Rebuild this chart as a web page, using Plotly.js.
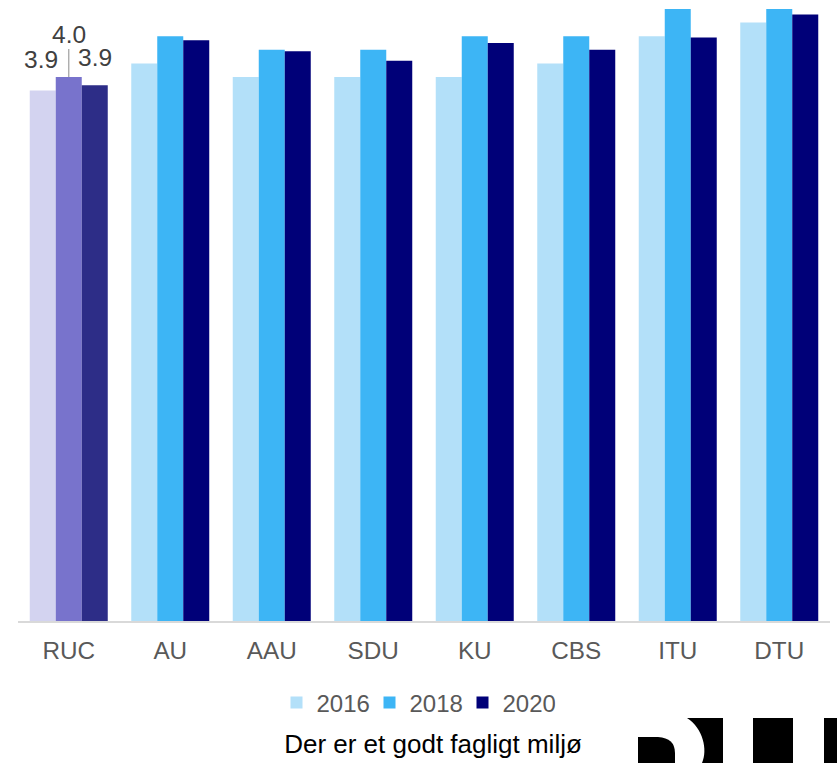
<!DOCTYPE html>
<html>
<head>
<meta charset="utf-8">
<script src="https://cdn.plot.ly/plotly-3.0.1.min.js"></script>
<style>html,body{margin:0;padding:0;background:#fff;}#chart{width:837px;height:763px;}</style>
</head>
<body>
<div id="chart"></div>
<script>
// ---- data ----
const categories = ['RUC', 'AU', 'AAU', 'SDU', 'KU', 'CBS', 'ITU', 'DTU'];
const years = ['2016', '2018', '2020'];
const v2016 = [3.9, 4.1, 4.0, 4.0, 4.0, 4.1, 4.3, 4.4];
const v2018 = [4.0, 4.3, 4.2, 4.2, 4.3, 4.3, 4.5, 4.5];
const v2020 = [3.94, 4.27, 4.19, 4.12, 4.25, 4.2, 4.29, 4.46];
const titleText = 'Der er et godt fagligt miljø';

// ---- styles ----
const seriesColors = ['#b3e0f9', '#3db5f5', '#000078'];
const highlightColors = ['#d3d3f0', '#7873cc', '#2d2d87'];
const FONT = 'Arial, "Liberation Sans", sans-serif';

const series = [v2016, v2018, v2020];
const traces = [];
series.forEach((vals, i) => {
  traces.push({
    type: 'bar', name: years[i],
    x: categories.slice(1), y: vals.slice(1),
    offsetgroup: years[i], legendgroup: years[i],
    marker: {color: seriesColors[i], line: {width: 0}},
    hoverinfo: 'x+y+name'
  });
});
series.forEach((vals, i) => {
  traces.push({
    type: 'bar', name: years[i],
    x: categories.slice(0, 1), y: vals.slice(0, 1),
    offsetgroup: years[i], legendgroup: years[i], showlegend: false,
    marker: {color: highlightColors[i], line: {width: 0}},
    hoverinfo: 'x+y+name'
  });
});

const labelFont = {family: FONT, size: 24.5, color: '#404040'};
const annotations = [
  {x: categories[0], y: v2016[0], text: v2016[0].toFixed(1), showarrow: false,
   xshift: -28, yshift: 31, font: labelFont, xanchor: 'center', yanchor: 'middle'},
  {x: categories[0], y: v2018[0], text: v2018[0].toFixed(1), showarrow: true,
   ax: 0, ay: -43, arrowhead: 0, arrowwidth: 1.3, arrowcolor: '#a6a6a6',
   standoff: 0, font: labelFont},
  {x: categories[0], y: v2020[0], text: v2020[0].toFixed(1), showarrow: false,
   xshift: 26, yshift: 28, font: labelFont, xanchor: 'center', yanchor: 'middle'}
];

const logoSvg = '<svg xmlns="http://www.w3.org/2000/svg" viewBox="0 0 207 53" width="207" height="53" preserveAspectRatio="none">' +
  '<path d="M8,53 V27 H28 Q45,28 45,43 V53 Z" fill="#000"/>' +
  '<path d="M57,8 H93 V53 H72 C78,40 73,18 57,8 Z" fill="#000"/>' +
  '<rect x="123" y="8" width="40" height="45" fill="#000"/>' +
  '<rect x="194" y="8" width="13" height="45" fill="#000"/>' +
  '</svg>';

const layout = {
  width: 837, height: 763,
  margin: {l: 18, r: 7, t: 9, b: 142},
  paper_bgcolor: '#ffffff', plot_bgcolor: '#ffffff',
  font: {family: FONT, color: '#595959'},
  barmode: 'group', bargap: 0.2315, bargroupgap: 0,
  title: {text: titleText, font: {family: FONT, size: 26, color: '#000000'},
          x: 433 / 837, xanchor: 'center', y: 0.025, yanchor: 'middle', xref: 'container', yref: 'container'},
  xaxis: {
    type: 'category', categoryorder: 'array', categoryarray: categories,
    showline: true, linecolor: '#d9d9d9', linewidth: 1.5,
    ticks: '', showgrid: false, zeroline: false,
    tickfont: {family: FONT, size: 24.3, color: '#595959'},
    ticklabelstandoff: 7
  },
  yaxis: {range: [0, 4.5], visible: false, showgrid: false, zeroline: false, fixedrange: true},
  showlegend: true,
  legend: {orientation: 'h', x: 0.5 - 8 / 812, xanchor: 'center', y: -0.134, yanchor: 'middle',
           font: {family: FONT, size: 24, color: '#595959'}, traceorder: 'normal',
           itemwidth: 30, tracegroupgap: 0, entrywidth: 48, entrywidthmode: 'pixels'},
  annotations: annotations,
  images: [{
    source: 'data:image/svg+xml;charset=utf-8,' + encodeURIComponent(logoSvg),
    xref: 'paper', yref: 'paper',
    x: (630 - 18) / 812, y: (621 - 710) / 612,
    sizex: 207 / 812, sizey: 53 / 612,
    xanchor: 'left', yanchor: 'top', sizing: 'stretch', layer: 'above'
  }]
};

Plotly.newPlot('chart', traces, layout, {displayModeBar: false, staticPlot: true});
</script>
</body>
</html>
